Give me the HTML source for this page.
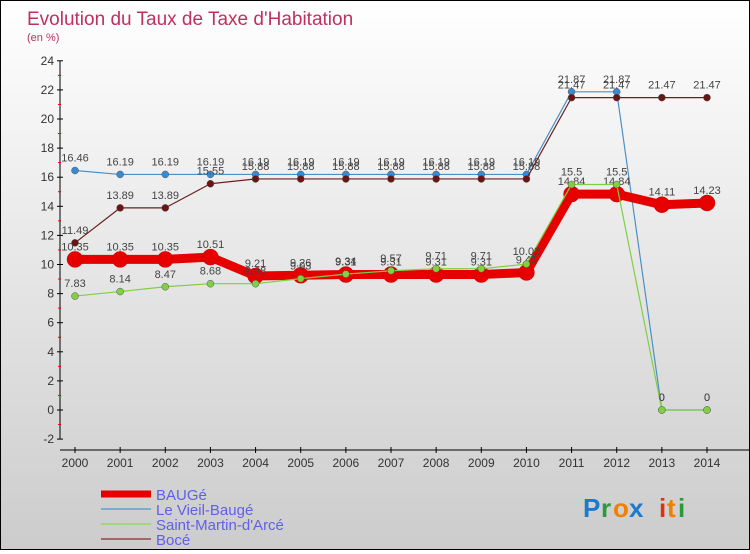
<!DOCTYPE html>
<html><head><meta charset="utf-8"><style>
body{margin:0;width:750px;height:550px;overflow:hidden;font-family:"Liberation Sans",sans-serif}
#wrap{position:relative;width:748px;height:548px;border:1px solid #000;background:linear-gradient(#fff,#ccc)}
</style></head><body>
<div id="wrap">
<svg id="c" width="748" height="548">
<text x="26" y="24" font-size="19" fill="#c0305e">Evolution du Taux de Taxe d'Habitation</text>
<text x="26" y="40" font-size="11" fill="#c0305e">(en %)</text>
<g id="axes"></g><g id="series"></g><g id="legend"></g>
<g font-size="26" font-weight="bold">
<text x="582" y="516" fill="#1a7ad0">P</text><text x="600" y="516" fill="#2a9a3a">r</text><text x="612" y="516" fill="#f08000">o</text><text x="628" y="516" fill="#1a7ad0">x</text><text x="658" y="516" fill="#e03010">i</text><text x="666" y="516" fill="#f08000">t</text><text x="677" y="516" fill="#2a9a3a">i</text>
</g>
</svg></div>
<script>
const years=[2000,2001,2002,2003,2004,2005,2006,2007,2008,2009,2010,2011,2012,2013,2014];
const baugeVals=[10.35,10.35,10.35,10.51,9.21,9.26,9.31,9.31,9.31,9.31,9.45,14.84,14.84,14.11,14.23];
const vieilVals=[16.46,16.19,16.19,16.19,16.19,16.19,16.19,16.19,16.19,16.19,16.19,21.87,21.87,0,0];
const smaVals=[7.83,8.14,8.47,8.68,8.68,9.03,9.34,9.57,9.71,9.71,10.03,15.5,15.5,0,0];
const boceVals=[11.49,13.89,13.89,15.55,15.88,15.88,15.88,15.88,15.88,15.88,15.88,21.47,21.47,21.47,21.47];
const yTicks=[-2,0,2,4,6,8,10,12,14,16,18,20,22,24];
const NS="http://www.w3.org/2000/svg";
const x=i=>74+i*(632/14);
const y=v=>409-v*14.55;
function mk(t,a,p){const e=document.createElementNS(NS,t);for(const k in a)e.setAttribute(k,a[k]);p.appendChild(e);return e;}
const ax=document.getElementById('axes');
mk('line',{x1:59,y1:y(24),x2:59,y2:y(-2),stroke:'#000'},ax);
mk('line',{x1:59,y1:449,x2:748,y2:449,stroke:'#000'},ax);
yTicks.forEach(v=>{
 mk('line',{x1:56,y1:y(v),x2:62,y2:y(v),stroke:'#000'},ax);
 if(v<24)mk('line',{x1:57,y1:y(v+1),x2:60,y2:y(v+1),stroke:'#e00'},ax);
 const t=mk('text',{x:53,y:y(v)+4,'font-size':12,fill:'#333','text-anchor':'end'},ax);
 
 
 t.textContent=v;
});
years.forEach((yr,i)=>{
 mk('line',{x1:x(i),y1:446,x2:x(i),y2:452,stroke:'#000'},ax);
 const t=mk('text',{x:x(i),y:466,'font-size':12,fill:'#333','text-anchor':'middle'},ax);
 
 
 t.textContent=yr;
});
const S=[
 {n:'Le Vieil-Baugé',v:vieilVals,c:'#4a90c8',w:1.2,r:3.5,fc:'#3a8ad0',id:'series-le-vieil-bauge'},
 {n:'Bocé',v:boceVals,c:'#6a2020',w:1.2,r:3.5,fc:'#6a1414',id:'series-boce'},
 {n:'BAUGé',v:baugeVals,c:'#e60000',w:9,r:8,fc:'#e60000',id:'series-bauge'},
 {n:'Saint-Martin-d\'Arcé',v:smaVals,c:'#7ed040',w:1.2,r:3.5,fc:'#80d040',id:'series-saint-martin-d-arce'}
];
const sg=document.getElementById('series');
S.forEach(s=>{
 const g=mk('g',{},sg);
 
 
 mk('polyline',{points:s.v.map((v,i)=>x(i)+','+y(v)).join(' '),fill:'none',stroke:s.c,'stroke-width':s.w,'stroke-linejoin':'round'},g);
 s.v.forEach((v,i)=>{
  const p=mk('circle',{cx:x(i),cy:y(v),r:s.r,fill:s.fc,stroke:s.r>5?'#c00':'#555','stroke-width':0.5},g);
  
  
  const t=mk('text',{x:x(i),y:y(v)-9,'font-size':11,fill:'#444','text-anchor':'middle'},g);
  
  
  t.textContent=v;
 });
});
const lg=document.getElementById('legend');
const L=[['BAUGé','#e60000',7],['Le Vieil-Baugé','#7aaed0',2],['Saint-Martin-d\'Arcé','#a0d880',2],['Bocé','#a06868',2]];
L.forEach((l,i)=>{
 const yy=493+i*15;
 const g=mk('g',{},lg);
 
 
 mk('line',{x1:100,y1:yy,x2:150,y2:yy,stroke:l[1],'stroke-width':l[2]},g);
 const t=mk('text',{x:155,y:yy+6,'font-size':15,fill:'#6060e8'},g);
 t.textContent=l[0];
});
</script>
</body></html>
